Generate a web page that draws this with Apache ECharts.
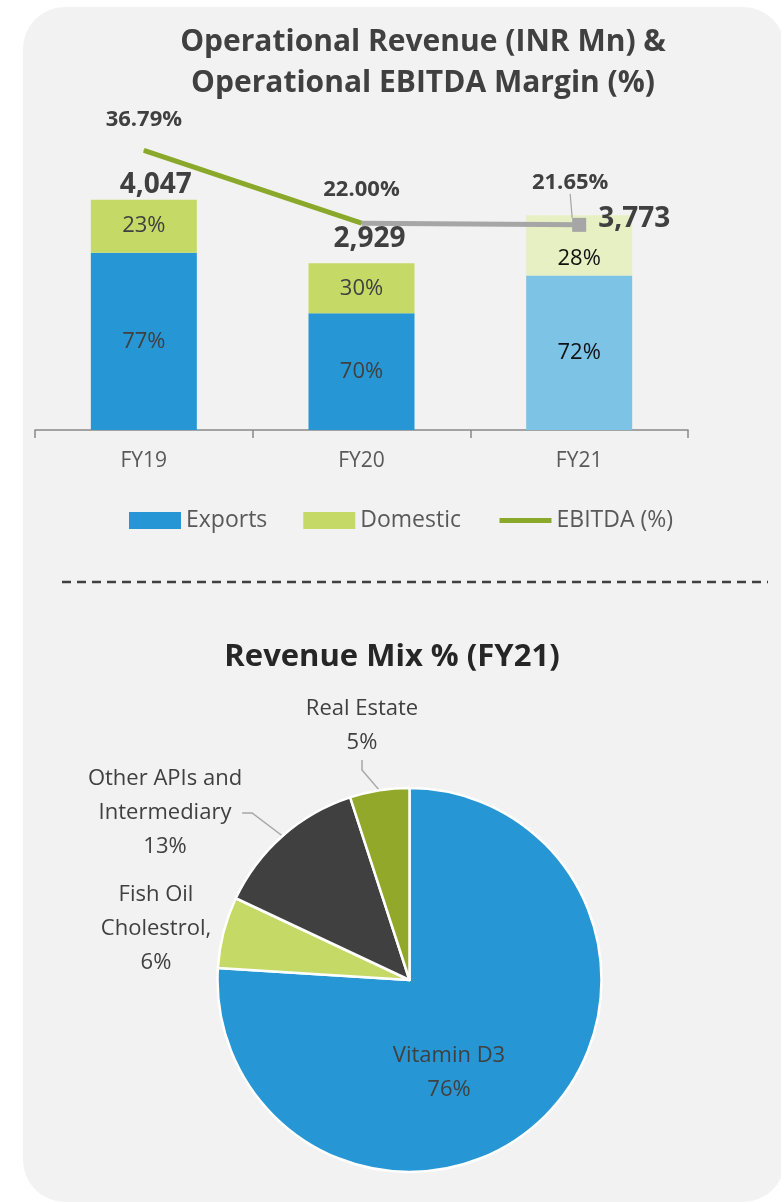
<!DOCTYPE html>
<html>
<head>
<meta charset="utf-8">
<script src="https://cdn.jsdelivr.net/npm/echarts@6/dist/echarts.min.js"></script>
<style>
  html, body { margin: 0; padding: 0; background: #ffffff; }
  #chart { width: 781px; height: 1202px; }
</style>
</head>
<body>
<div id="chart"></div>
<script>
// data
const years = ['FY19', 'FY20', 'FY21'];
const revenue = [4047, 2929, 3773];
const exportShare = [77, 70, 72];
const domesticShare = [23, 30, 28];
const ebitda = [36.79, 22.00, 21.65];
const mixNames = ['Vitamin D3', 'Fish Oil\nCholestrol', 'Other APIs and\nIntermediary', 'Real Estate'];
const mixShare = [76, 6, 13, 5];

// styles
const FONT = 'Open Sans';
const exportColors = ['#2697d4', '#2697d4', '#7cc3e6'];
const domesticColors = ['#c5da66', '#c5da66', '#e6f0c2'];
const innerLabelColors = ['#404040', '#404040', '#111111'];
const totalOffsets = [[12, 0], [8, -10], [55, 18]];
const mixColors = ['#2697d4', '#c5da66', '#404040', '#91a82a'];

const chart = echarts.init(document.getElementById('chart'));

const exportData = revenue.map((t, i) => ({
  value: t * exportShare[i] / 100,
  itemStyle: { color: exportColors[i] },
  label: { color: innerLabelColors[i] }
}));
const domesticData = revenue.map((t, i) => ({
  value: t * domesticShare[i] / 100,
  itemStyle: { color: domesticColors[i] },
  label: { color: innerLabelColors[i], offset: i === 2 ? [0, 13] : [0, 0] }
}));
const totalData = revenue.map((t, i) => ({
  value: t,
  label: { offset: totalOffsets[i] }
}));
const ebitdaGreen = ebitda.map((v, i) => (i <= 1 ? v : '-'));
const ebitdaGrey = ebitda.map((v, i) => (i >= 1 ? {
  value: v,
  symbolSize: i === 2 ? 14 : 0,
  labelLine: { show: i === 2 }
} : '-'));

const pieLabelPos = [[449, 1073], [156, 929], [165, 813], [362, 726]];

const option = {
  animation: false,
  textStyle: { fontFamily: FONT },
  graphic: [
    { type: 'rect', z: -10, shape: { x: 23, y: 7, width: 762, height: 1195, r: 42 }, style: { fill: '#f2f2f2' } },
    { type: 'line', shape: { x1: 62, y1: 582, x2: 768, y2: 582 }, style: { stroke: '#404040', lineWidth: 2.5, lineDash: [9, 6] } }
  ],
  title: [
    {
      text: 'Operational Revenue (INR Mn) &\nOperational EBITDA Margin (%)',
      left: 423, top: 22, textAlign: 'center', padding: 0,
      textStyle: { fontFamily: FONT, fontSize: 30, fontWeight: 'bold', color: '#404040', lineHeight: 41 }
    },
    {
      text: 'Revenue Mix % (FY21)',
      left: 392, top: 642, textAlign: 'center', padding: 0,
      textStyle: { fontFamily: FONT, fontSize: 31, fontWeight: 'bold', color: '#262626' }
    }
  ],
  legend: {
    left: 129, top: 509, padding: 0,
    itemWidth: 52, itemHeight: 17, itemGap: 36,
    data: [
      { name: 'Exports', icon: 'rect' },
      { name: 'Domestic', icon: 'rect' },
      { name: 'EBITDA (%)', itemStyle: { opacity: 0 }, lineStyle: { width: 5 } }
    ],
    textStyle: { fontFamily: FONT, fontSize: 23, color: '#595959' }
  },
  grid: { left: 35, width: 653, top: 100, height: 330 },
  xAxis: {
    type: 'category',
    data: years,
    axisLine: { lineStyle: { color: '#898989', width: 1.5 } },
    axisTick: { show: true, length: 8, lineStyle: { color: '#898989', width: 1.5 } },
    axisLabel: { fontFamily: FONT, fontSize: 21, color: '#595959', margin: 21 }
  },
  yAxis: [
    { type: 'value', min: 0, max: 5800, show: false, splitLine: { show: false } },
    { type: 'value', min: -20, max: 47, show: false, splitLine: { show: false } }
  ],
  series: [
    {
      name: 'Exports', type: 'bar', stack: 'rev', barWidth: 106,
      itemStyle: { color: exportColors[0] },
      label: {
        show: true, position: 'inside', fontFamily: FONT, fontSize: 22,
        formatter: p => exportShare[p.dataIndex] + '%'
      },
      data: exportData
    },
    {
      name: 'Domestic', type: 'bar', stack: 'rev', barWidth: 106,
      itemStyle: { color: domesticColors[0] },
      label: {
        show: true, position: 'inside', fontFamily: FONT, fontSize: 22,
        formatter: p => domesticShare[p.dataIndex] + '%'
      },
      data: domesticData
    },
    {
      name: 'total', type: 'scatter', symbolSize: 1,
      itemStyle: { color: 'rgba(0,0,0,0)', opacity: 1 },
      label: {
        show: true, position: 'top', distance: 0,
        fontFamily: FONT, fontSize: 28, fontWeight: 'bold', color: '#404040',
        formatter: p => p.value.toLocaleString('en-US')
      },
      data: totalData, z: 5
    },
    {
      name: 'EBITDA (%)', type: 'line', yAxisIndex: 1,
      symbol: 'circle', symbolSize: 1,
      lineStyle: { color: '#8aa82a', width: 5 },
      itemStyle: { color: '#8aa82a' },
      label: {
        show: true, position: 'top', distance: 19,
        fontFamily: FONT, fontSize: 22, fontWeight: 'bold', color: '#404040',
        formatter: p => (p.dataIndex === 0 ? p.value.toFixed(2) + '%' : '')
      },
      data: ebitdaGreen, z: 4
    },
    {
      name: 'ebitda2', type: 'line', yAxisIndex: 1,
      symbol: 'rect',
      lineStyle: { color: '#a6a6a6', width: 5 },
      itemStyle: { color: '#a6a6a6' },
      label: {
        show: true, position: 'top', distance: 22,
        fontFamily: FONT, fontSize: 22, fontWeight: 'bold', color: '#404040',
        formatter: p => p.value.toFixed(2) + '%'
      },
      labelLine: { show: false, lineStyle: { color: '#a6a6a6', width: 1.2 } },
      labelLayout: p => (p.dataIndex === 2 ? { dx: -9, dy: -2 } : {}),
      data: ebitdaGrey, z: 4
    },
    {
      name: 'mix', type: 'pie',
      center: [409.5, 980], radius: 192,
      startAngle: 90, clockwise: true,
      avoidLabelOverlap: false,
      itemStyle: { borderColor: '#ffffff', borderWidth: 2.5 },
      label: {
        show: true, position: 'outside', fontFamily: FONT, fontSize: 22, lineHeight: 34, color: '#404040',
        formatter: p => p.name + (p.dataIndex === 1 ? ',' : '') + '\n' + p.value + '%'
      },
      labelLine: { show: true, length: 20, length2: 10, lineStyle: { color: '#a6a6a6', width: 1.5 } },
      labelLayout: p => ({
        x: pieLabelPos[p.dataIndex][0], y: pieLabelPos[p.dataIndex][1],
        align: 'center', verticalAlign: 'middle'
      }),
      data: mixNames.map((n, i) => ({
        name: n, value: mixShare[i],
        itemStyle: { color: mixColors[i] },
        label: i === 0 ? { position: 'inside' } : {},
        labelLine: i <= 1 ? { show: false } : {}
      }))
    }
  ]
};

chart.setOption(option);
</script>
</body>
</html>
